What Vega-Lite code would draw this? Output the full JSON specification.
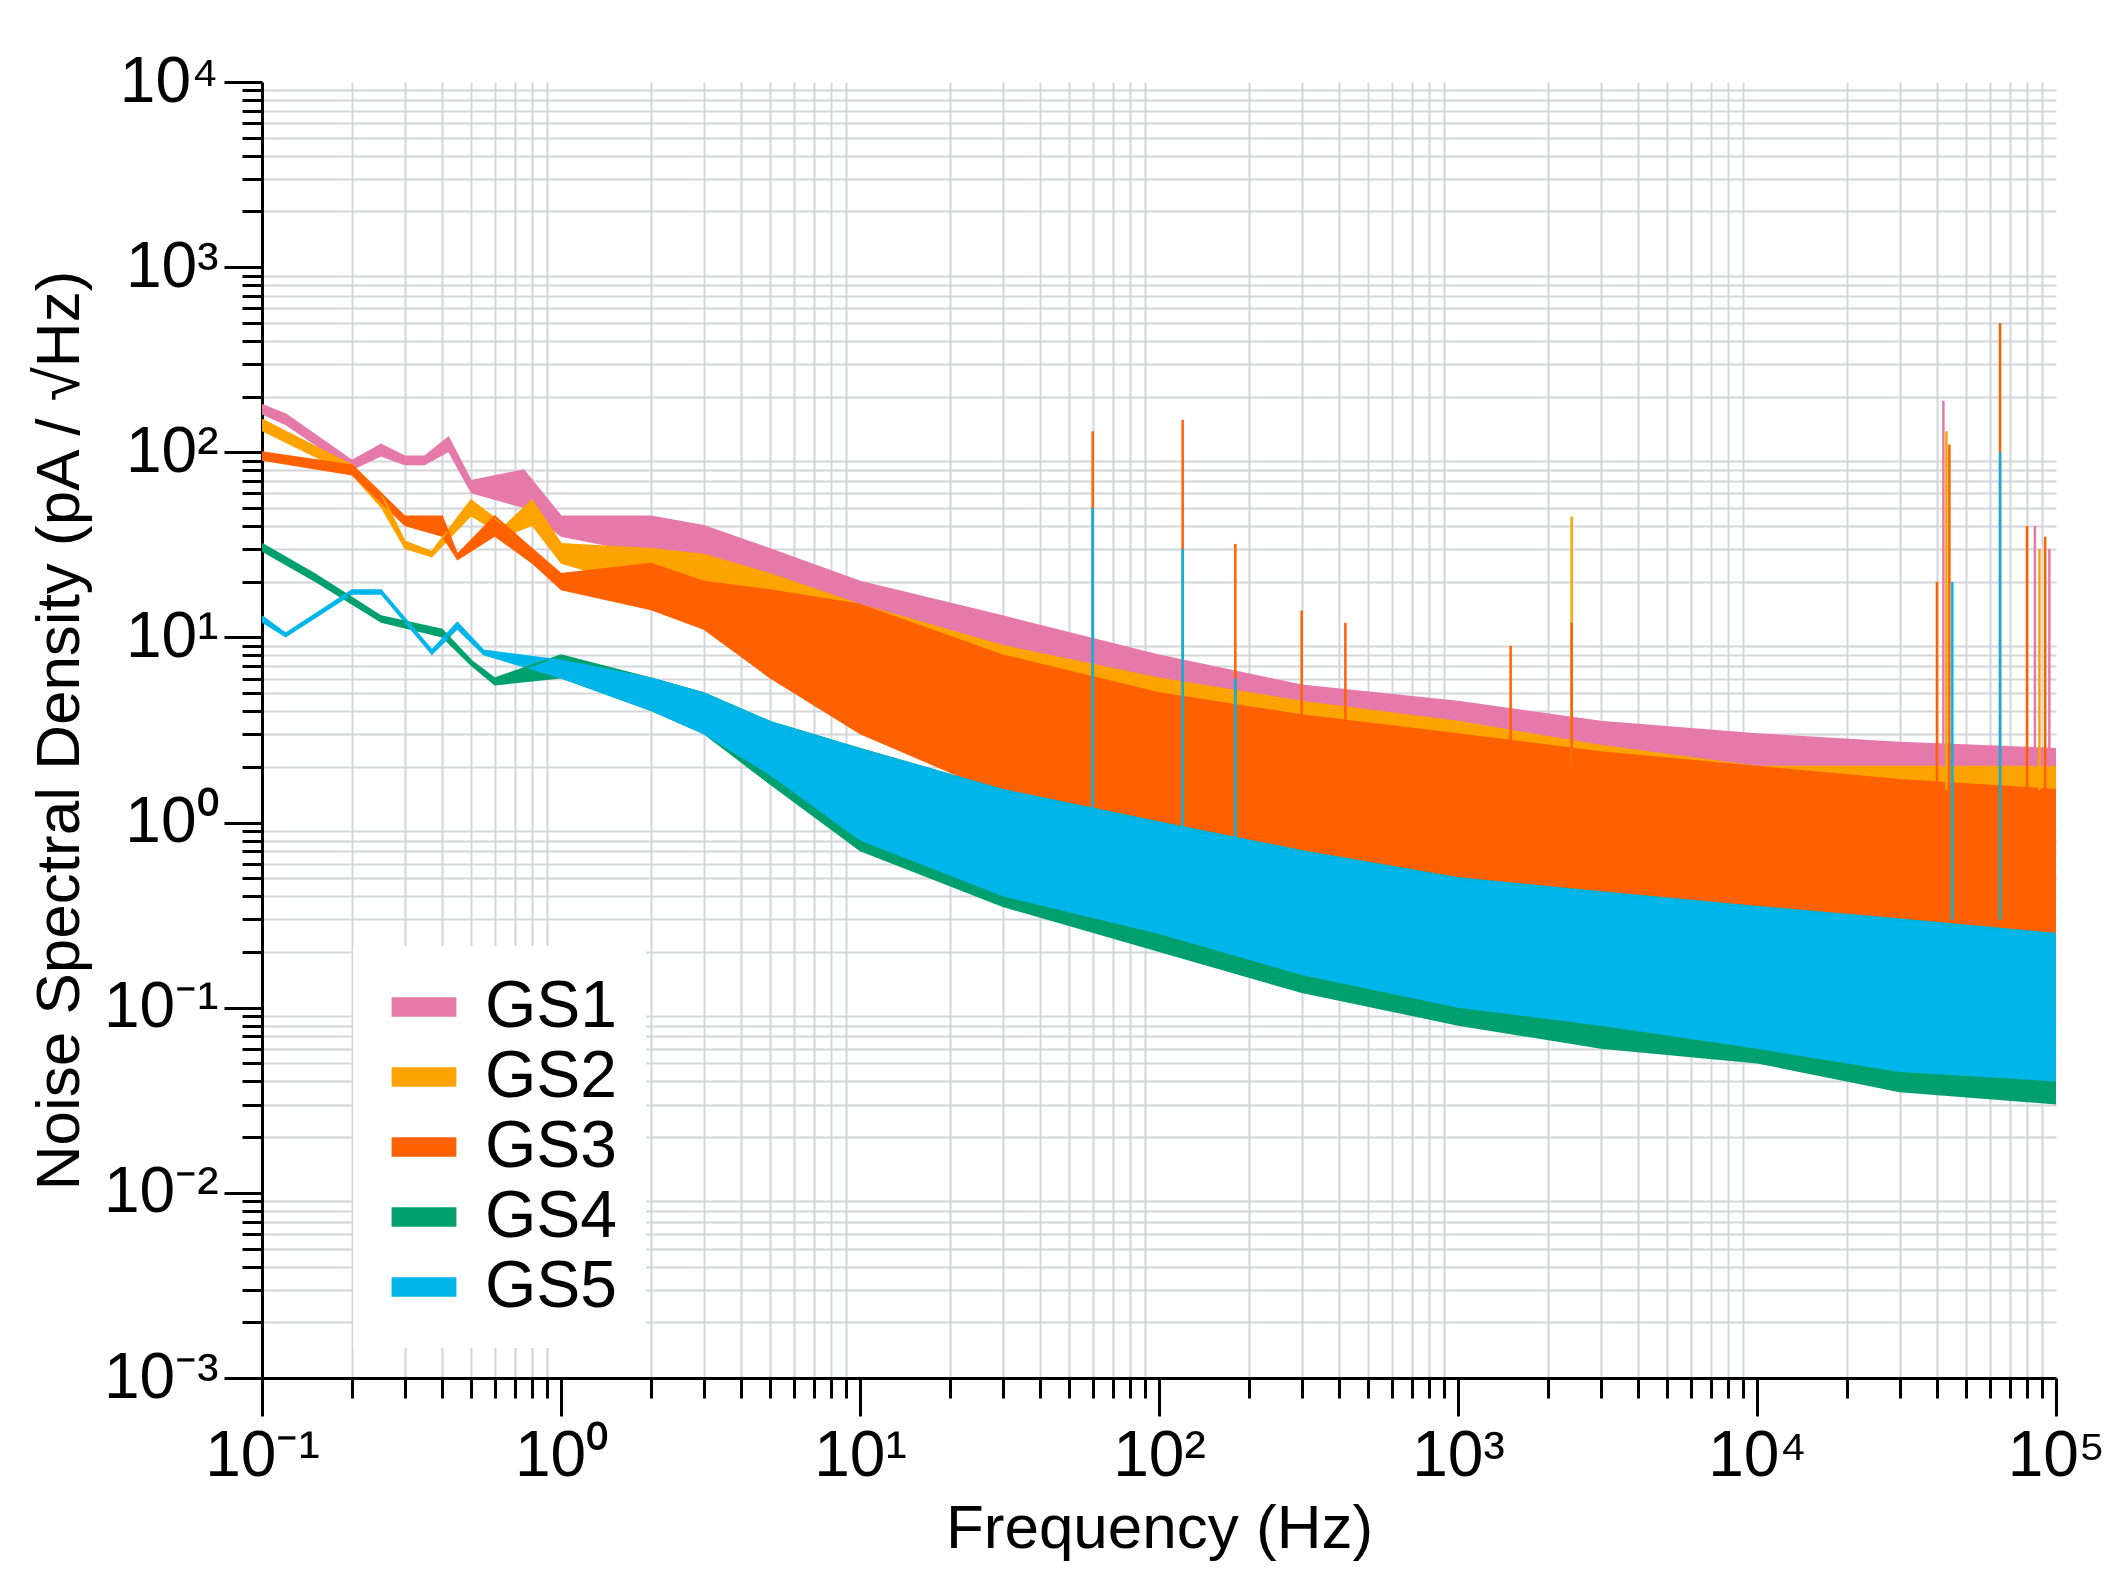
{
  "$schema": "https://vega.github.io/schema/vega-lite/v6.json",
  "width": 1794,
  "height": 1296,
  "autosize": "none",
  "padding": {"left": 262, "top": 82, "right": 61, "bottom": 215},
  "background": "white",
  "config": {
    "font": "Liberation Sans",
    "view": {"stroke": null},
    "axis": {"domainColor": "black", "domainWidth": 3, "tickColor": "black", "tickWidth": 3, "gridColor": "#d3d6d8", "gridWidth": 2, "labelFont": "Liberation Sans", "titleFont": "Liberation Sans", "labelColor": "black", "titleColor": "black", "titleFontWeight": "normal", "labelFlush": false}
  },
  "resolve": {"axis": {"x": "independent", "y": "independent"}},
  "datasets": {
    "bands": [
      {"series": "GS1", "f": 0.1, "hi": 180, "lo": 160},
      {"series": "GS1", "f": 0.12, "hi": 160, "lo": 140},
      {"series": "GS1", "f": 0.2, "hi": 90, "lo": 80},
      {"series": "GS1", "f": 0.25, "hi": 110, "lo": 95},
      {"series": "GS1", "f": 0.3, "hi": 95, "lo": 85},
      {"series": "GS1", "f": 0.35, "hi": 95, "lo": 85},
      {"series": "GS1", "f": 0.42, "hi": 120, "lo": 100},
      {"series": "GS1", "f": 0.5, "hi": 70, "lo": 60},
      {"series": "GS1", "f": 0.75, "hi": 80, "lo": 50},
      {"series": "GS1", "f": 1, "hi": 45, "lo": 35},
      {"series": "GS1", "f": 2, "hi": 45, "lo": 28},
      {"series": "GS1", "f": 3, "hi": 40, "lo": 22},
      {"series": "GS1", "f": 5, "hi": 30, "lo": 14},
      {"series": "GS1", "f": 10, "hi": 20, "lo": 8},
      {"series": "GS1", "f": 30, "hi": 13, "lo": 4.5},
      {"series": "GS1", "f": 100, "hi": 8, "lo": 3},
      {"series": "GS1", "f": 300, "hi": 5.5, "lo": 2.3},
      {"series": "GS1", "f": 1000, "hi": 4.5, "lo": 2},
      {"series": "GS1", "f": 3000, "hi": 3.5, "lo": 1.7},
      {"series": "GS1", "f": 10000, "hi": 3, "lo": 1.5},
      {"series": "GS1", "f": 30000, "hi": 2.7, "lo": 1.2},
      {"series": "GS1", "f": 100000, "hi": 2.5, "lo": 1},
      {"series": "GS2", "f": 0.1, "hi": 150, "lo": 130},
      {"series": "GS2", "f": 0.2, "hi": 85, "lo": 75},
      {"series": "GS2", "f": 0.25, "hi": 60, "lo": 50},
      {"series": "GS2", "f": 0.3, "hi": 33, "lo": 30},
      {"series": "GS2", "f": 0.37, "hi": 29, "lo": 27},
      {"series": "GS2", "f": 0.5, "hi": 55, "lo": 45},
      {"series": "GS2", "f": 0.65, "hi": 40, "lo": 35},
      {"series": "GS2", "f": 0.8, "hi": 55, "lo": 40},
      {"series": "GS2", "f": 1, "hi": 32, "lo": 25},
      {"series": "GS2", "f": 2, "hi": 30, "lo": 18},
      {"series": "GS2", "f": 3, "hi": 28, "lo": 14},
      {"series": "GS2", "f": 5, "hi": 22, "lo": 8},
      {"series": "GS2", "f": 10, "hi": 15, "lo": 4},
      {"series": "GS2", "f": 30, "hi": 9, "lo": 2.2},
      {"series": "GS2", "f": 100, "hi": 6, "lo": 1.5},
      {"series": "GS2", "f": 300, "hi": 4.5, "lo": 1.2},
      {"series": "GS2", "f": 1000, "hi": 3.5, "lo": 1},
      {"series": "GS2", "f": 3000, "hi": 2.6, "lo": 0.85},
      {"series": "GS2", "f": 10000, "hi": 2, "lo": 0.7},
      {"series": "GS2", "f": 30000, "hi": 2, "lo": 0.6},
      {"series": "GS2", "f": 100000, "hi": 2, "lo": 0.5},
      {"series": "GS3", "f": 0.1, "hi": 100, "lo": 90},
      {"series": "GS3", "f": 0.2, "hi": 85, "lo": 75},
      {"series": "GS3", "f": 0.3, "hi": 45, "lo": 40},
      {"series": "GS3", "f": 0.4, "hi": 45, "lo": 35},
      {"series": "GS3", "f": 0.45, "hi": 28, "lo": 26},
      {"series": "GS3", "f": 0.6, "hi": 45, "lo": 35},
      {"series": "GS3", "f": 0.8, "hi": 30, "lo": 25},
      {"series": "GS3", "f": 1, "hi": 22, "lo": 18},
      {"series": "GS3", "f": 2, "hi": 25, "lo": 14},
      {"series": "GS3", "f": 3, "hi": 20, "lo": 11},
      {"series": "GS3", "f": 5, "hi": 18, "lo": 6},
      {"series": "GS3", "f": 10, "hi": 15, "lo": 3},
      {"series": "GS3", "f": 30, "hi": 8, "lo": 1.4},
      {"series": "GS3", "f": 100, "hi": 5, "lo": 0.7},
      {"series": "GS3", "f": 300, "hi": 3.8, "lo": 0.5},
      {"series": "GS3", "f": 1000, "hi": 3, "lo": 0.4},
      {"series": "GS3", "f": 3000, "hi": 2.4, "lo": 0.33},
      {"series": "GS3", "f": 10000, "hi": 2, "lo": 0.3},
      {"series": "GS3", "f": 30000, "hi": 1.7, "lo": 0.27},
      {"series": "GS3", "f": 100000, "hi": 1.5, "lo": 0.25},
      {"series": "GS4", "f": 0.1, "hi": 32, "lo": 29},
      {"series": "GS4", "f": 0.15, "hi": 22, "lo": 20},
      {"series": "GS4", "f": 0.25, "hi": 13, "lo": 12},
      {"series": "GS4", "f": 0.4, "hi": 11, "lo": 10},
      {"series": "GS4", "f": 0.5, "hi": 7.5, "lo": 7},
      {"series": "GS4", "f": 0.6, "hi": 6, "lo": 5.5},
      {"series": "GS4", "f": 1, "hi": 8, "lo": 6},
      {"series": "GS4", "f": 2, "hi": 6, "lo": 4},
      {"series": "GS4", "f": 3, "hi": 5, "lo": 3},
      {"series": "GS4", "f": 5, "hi": 3.5, "lo": 1.6},
      {"series": "GS4", "f": 10, "hi": 2.5, "lo": 0.7},
      {"series": "GS4", "f": 30, "hi": 1.5, "lo": 0.35},
      {"series": "GS4", "f": 100, "hi": 1, "lo": 0.2},
      {"series": "GS4", "f": 300, "hi": 0.7, "lo": 0.12},
      {"series": "GS4", "f": 1000, "hi": 0.5, "lo": 0.08},
      {"series": "GS4", "f": 3000, "hi": 0.42, "lo": 0.06},
      {"series": "GS4", "f": 10000, "hi": 0.35, "lo": 0.05},
      {"series": "GS4", "f": 30000, "hi": 0.3, "lo": 0.035},
      {"series": "GS4", "f": 100000, "hi": 0.25, "lo": 0.03},
      {"series": "GS5", "f": 0.1, "hi": 13, "lo": 12},
      {"series": "GS5", "f": 0.12, "hi": 10.5, "lo": 10},
      {"series": "GS5", "f": 0.2, "hi": 18, "lo": 17},
      {"series": "GS5", "f": 0.25, "hi": 18, "lo": 17},
      {"series": "GS5", "f": 0.37, "hi": 8.5, "lo": 8},
      {"series": "GS5", "f": 0.45, "hi": 12, "lo": 11},
      {"series": "GS5", "f": 0.55, "hi": 8.5, "lo": 8},
      {"series": "GS5", "f": 1, "hi": 7.5, "lo": 6},
      {"series": "GS5", "f": 2, "hi": 6, "lo": 4},
      {"series": "GS5", "f": 3, "hi": 5, "lo": 3},
      {"series": "GS5", "f": 5, "hi": 3.5, "lo": 1.8},
      {"series": "GS5", "f": 10, "hi": 2.5, "lo": 0.8},
      {"series": "GS5", "f": 30, "hi": 1.5, "lo": 0.4},
      {"series": "GS5", "f": 100, "hi": 1, "lo": 0.25},
      {"series": "GS5", "f": 300, "hi": 0.7, "lo": 0.15},
      {"series": "GS5", "f": 1000, "hi": 0.5, "lo": 0.1},
      {"series": "GS5", "f": 3000, "hi": 0.42, "lo": 0.08},
      {"series": "GS5", "f": 10000, "hi": 0.35, "lo": 0.06},
      {"series": "GS5", "f": 30000, "hi": 0.3, "lo": 0.045},
      {"series": "GS5", "f": 100000, "hi": 0.25, "lo": 0.04}
    ],
    "spikes": [
      {"series": "GS1", "f": 42000, "peak": 190, "base": 2},
      {"series": "GS1", "f": 85000, "peak": 40, "base": 2},
      {"series": "GS1", "f": 95000, "peak": 30, "base": 2},
      {"series": "GS2", "f": 2400, "peak": 45, "base": 2},
      {"series": "GS2", "f": 43000, "peak": 130, "base": 1.5},
      {"series": "GS2", "f": 88000, "peak": 30, "base": 1.5},
      {"series": "GS3", "f": 60, "peak": 130, "base": 3},
      {"series": "GS3", "f": 120, "peak": 150, "base": 2.5},
      {"series": "GS3", "f": 180, "peak": 32, "base": 2},
      {"series": "GS3", "f": 300, "peak": 14, "base": 1.5},
      {"series": "GS3", "f": 420, "peak": 12, "base": 1.5},
      {"series": "GS3", "f": 1500, "peak": 9, "base": 1},
      {"series": "GS3", "f": 2400, "peak": 12, "base": 1},
      {"series": "GS3", "f": 40000, "peak": 20, "base": 0.5},
      {"series": "GS3", "f": 44000, "peak": 110, "base": 0.5},
      {"series": "GS3", "f": 65000, "peak": 500, "base": 0.5},
      {"series": "GS3", "f": 80000, "peak": 40, "base": 0.5},
      {"series": "GS3", "f": 92000, "peak": 35, "base": 0.5},
      {"series": "GS5", "f": 60, "peak": 50, "base": 1},
      {"series": "GS5", "f": 120, "peak": 30, "base": 0.8},
      {"series": "GS5", "f": 180, "peak": 6, "base": 0.7},
      {"series": "GS5", "f": 65000, "peak": 100, "base": 0.3},
      {"series": "GS5", "f": 45000, "peak": 20, "base": 0.3}
    ]
  },
  "layer": [
    {
      "data": {"name": "bands"},
      "mark": {"type": "area", "line": {"strokeWidth": 2}, "opacity": 1, "interpolate": "linear"},
      "encoding": {
        "x": {"field": "f", "type": "quantitative", "scale": {"type": "log", "domain": [0.1, 100000], "nice": false},
          "axis": {"orient": "bottom", "values": [0.2,0.3,0.4,0.5,0.6,0.7,0.8,0.9,2,3,4,5,6,7,8,9,20,30,40,50,60,70,80,90,200,300,400,500,600,700,800,900,2000,3000,4000,5000,6000,7000,8000,9000,20000,30000,40000,50000,60000,70000,80000,90000], "labels": false, "tickSize": 20, "title": null, "domain": false}},
        "y": {"field": "hi", "type": "quantitative", "scale": {"type": "log", "domain": [0.001, 10000], "nice": false},
          "axis": {"orient": "left", "values": [0.002,0.003,0.004,0.005,0.006,0.007,0.008,0.009,0.02,0.03,0.04,0.05,0.06,0.07,0.08,0.09,0.2,0.3,0.4,0.5,0.6,0.7,0.8,0.9,2,3,4,5,6,7,8,9,20,30,40,50,60,70,80,90,200,300,400,500,600,700,800,900,2000,3000,4000,5000,6000,7000,8000,9000], "labels": false, "tickSize": 20, "title": null, "domain": false}},
        "y2": {"field": "lo"},
        "color": {"field": "series", "type": "nominal",
          "scale": {"domain": ["GS1","GS2","GS3","GS4","GS5"], "range": ["#e57aaa","#fca300","#ff6100","#00a06e","#00b5e9"]},
          "legend": {"orient": "none", "legendX": 91, "legendY": 864, "title": null, "fillColor": "white", "padding": 28, "labelFontSize": 66, "labelFont": "Liberation Sans", "labelColor": "black", "symbolType": "M-1,-0.3H1V0.3H-1Z", "symbolSize": 4200, "symbolStrokeWidth": 0, "rowPadding": 4, "labelOffset": 28, "symbolOffset": 10}},
        "order": {"field": "series", "sort": "ascending"}
      }
    },
    {
      "data": {"name": "spikes"},
      "mark": {"type": "rule", "strokeWidth": 2.5},
      "encoding": {
        "x": {"field": "f", "type": "quantitative", "scale": {"type": "log", "domain": [0.1, 100000], "nice": false},
          "axis": {"orient": "bottom", "values": [0.1,1,10,100,1000,10000,100000], "tickSize": 38, "labelFontSize": 64, "labelPadding": 8, "labelExpr": "'10' + ['⁻³','⁻²','⁻¹','⁰','¹','²','³','⁴','⁵'][round(log(datum.value)/LN10) + 3]", "title": "Frequency (Hz)", "titleFontSize": 62, "titlePadding": 10, "gridColor": "#c9cccf"}},
        "y": {"field": "peak", "type": "quantitative", "scale": {"type": "log", "domain": [0.001, 10000], "nice": false},
          "axis": {"orient": "left", "values": [0.001,0.01,0.1,1,10,100,1000,10000], "tickSize": 38, "labelFontSize": 64, "labelPadding": 6, "labelExpr": "'10' + ['⁻³','⁻²','⁻¹','⁰','¹','²','³','⁴','⁵'][round(log(datum.value)/LN10) + 3]", "title": "Noise Spectral Density (pA / √Hz)", "titleFontSize": 62, "titlePadding": 12, "gridColor": "#c9cccf"}},
        "y2": {"field": "base"},
        "color": {"field": "series", "type": "nominal"}
      }
    }
  ]
}
